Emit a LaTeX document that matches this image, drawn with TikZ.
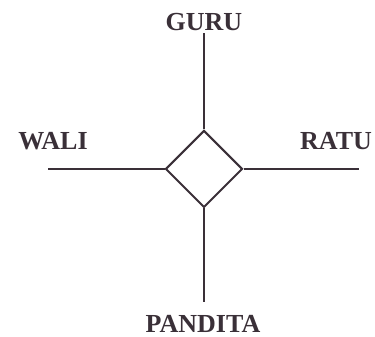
\documentclass[tikz,border=0pt]{standalone}
\usepackage{fontspec}
\setmainfont{Liberation Serif}
\usetikzlibrary{shapes.geometric}
\definecolor{inkgray}{HTML}{3A3038}

\begin{document}
\begin{tikzpicture}[
  x=1pt, y=1pt,
  line width=2pt,
  role/.style={text=inkgray, font=\fontsize{26}{30}\selectfont\bfseries, inner sep=0pt},
  core/.style={diamond, draw=inkgray, line width=2pt, inner sep=0pt, minimum width=77pt, minimum height=77pt},
  spoke/.style={draw=inkgray, line width=2pt}
]
  \useasboundingbox (0,0) rectangle (375,337);
  \node[core] (d) at (204,168) {};
  \node[role] (guru) at (204,315) {GURU};
  \node[role] (wali) at (53,196) {WALI};
  \node[role] (ratu) at (336,196) {RATU};
  \node[role] (pandita) at (203,13) {PANDITA};
  \coordinate (top) at (204,304);
  \coordinate (left) at (48,168);
  \coordinate (right) at (359,168);
  \coordinate (bottom) at (204,35);
  \draw[spoke] (d.north) -- (top);
  \draw[spoke] (d.west) -- (left);
  \draw[spoke] (d.east) -- (right);
  \draw[spoke] (d.south) -- (bottom);
\end{tikzpicture}
\end{document}
